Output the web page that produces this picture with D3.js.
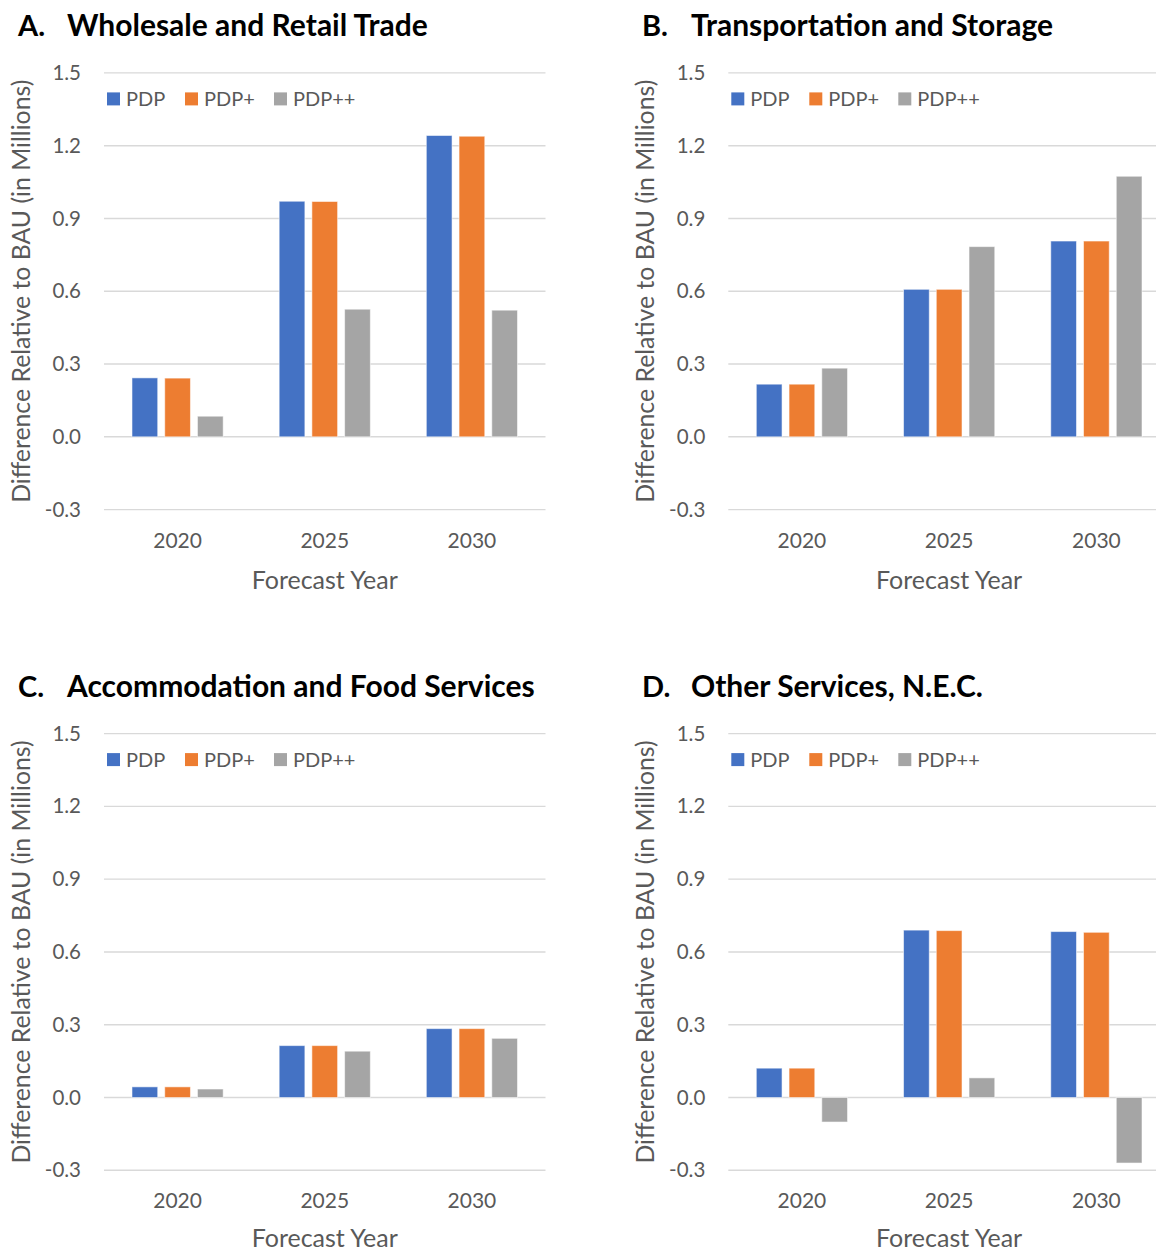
<!DOCTYPE html>
<html><head><meta charset="utf-8">
<script src="https://cdn.jsdelivr.net/npm/d3@7"></script>
<style>html,body{margin:0;padding:0;background:#fff;}svg{display:block;}</style>
</head><body>
<svg id="chart" width="1156" height="1251"></svg>
<script>
// ---- data ----
const categories = ["2020", "2025", "2030"];
const seriesNames = ["PDP", "PDP+", "PDP++"];
const yTicks = [-0.3, 0.0, 0.3, 0.6, 0.9, 1.2, 1.5];
const panelLetters = ["A.", "B.", "C.", "D."];
const panelTitles = ["Wholesale and Retail Trade", "Transportation and Storage", "Accommodation and Food Services", "Other Services, N.E.C."];
const xAxisTitle = "Forecast Year";
const yAxisTitle = "Difference Relative to BAU (in Millions)";

const wholesalePDP   = [0.243, 0.971, 1.242];
const wholesalePDPp  = [0.242, 0.970, 1.239];
const wholesalePDPpp = [0.085, 0.526, 0.522];

const transportPDP   = [0.217, 0.608, 0.807];
const transportPDPp  = [0.217, 0.608, 0.807];
const transportPDPpp = [0.283, 0.784, 1.074];

const accommodationPDP   = [0.044, 0.214, 0.284];
const accommodationPDPp  = [0.044, 0.214, 0.284];
const accommodationPDPpp = [0.035, 0.191, 0.244];

const otherPDP   = [0.121, 0.690, 0.684];
const otherPDPp  = [0.121, 0.688, 0.681];
const otherPDPpp = [-0.101, 0.081, -0.270];

// ---- layout / style ----
const colors = ["#4472C4", "#ED7D31", "#A5A5A5"];
const panelData = [
  [wholesalePDP, wholesalePDPp, wholesalePDPpp],
  [transportPDP, transportPDPp, transportPDPpp],
  [accommodationPDP, accommodationPDPp, accommodationPDPpp],
  [otherPDP, otherPDPp, otherPDPpp]
];
const layouts = [
  {x0: 104, x1: 545.5, yTop: 72.9, yBot: 509.6, titleX: 18, titleY: 35, xtY: 79},
  {x0: 728.3, x1: 1170, yTop: 72.9, yBot: 509.6, titleX: 642, titleY: 35, xtY: 79},
  {x0: 104, x1: 545.5, yTop: 733.6, yBot: 1170.3, titleX: 18, titleY: 696, xtY: 76.5},
  {x0: 728.3, x1: 1170, yTop: 733.6, yBot: 1170.3, titleX: 642, titleY: 696, xtY: 76.5}
];
const FONT = "Lato, 'Open Sans', sans-serif";
const TXT = "#595959";
const fmt = d => d.toFixed(1);

const svg = d3.select("#chart");

layouts.forEach((L, pi) => {
  const g = svg.append("g");
  const y = d3.scaleLinear().domain([-0.3, 1.5]).range([L.yBot, L.yTop]);
  const xOuter = d3.scaleBand().domain(categories).range([L.x0, L.x1]);
  const xInner = d3.scaleBand().domain(seriesNames).range([0, xOuter.bandwidth()])
    .paddingInner(0.214).paddingOuter(0.855);

  // gridlines
  g.append("g").selectAll("line").data(yTicks).join("line")
    .attr("x1", L.x0).attr("x2", L.x1)
    .attr("y1", d => y(d)).attr("y2", d => y(d))
    .attr("stroke", "#D9D9D9").attr("stroke-width", 1.4);

  // y axis via d3 axis (labels only)
  const yAxis = g.append("g").attr("transform", `translate(${L.x0 - 10},0)`)
    .call(d3.axisLeft(y).tickValues(yTicks).tickFormat(fmt).tickSize(0).tickPadding(13));
  yAxis.select(".domain").remove();
  yAxis.selectAll("text").attr("font-family", FONT).attr("font-size", 20.5).attr("fill", TXT);

  // x axis labels
  const xAxis = g.append("g").attr("transform", `translate(0,${L.yBot})`)
    .call(d3.axisBottom(xOuter).tickSize(0).tickPadding(23));
  xAxis.select(".domain").remove();
  xAxis.selectAll("text").attr("font-family", FONT).attr("font-size", 21).attr("fill", TXT);

  // bars
  const data = panelData[pi];
  seriesNames.forEach((s, si) => {
    g.append("g").selectAll("rect").data(data[si]).join("rect")
      .attr("x", (d, i) => xOuter(categories[i]) + xInner(s))
      .attr("width", xInner.bandwidth())
      .attr("y", d => Math.min(y(d), y(0)))
      .attr("height", d => Math.abs(y(d) - y(0)))
      .attr("fill", colors[si])
      .attr("stroke", "#ffffff").attr("stroke-opacity", 0.55).attr("stroke-width", 1);
  });

  // legend
  const lg = g.append("g").attr("transform", `translate(${L.x0 + 3},${L.yTop + 26})`);
  const legendOffsets = [0, 78, 167];
  seriesNames.forEach((s, si) => {
    const item = lg.append("g").attr("transform", `translate(${legendOffsets[si]},0)`);
    item.append("rect").attr("x", 0).attr("y", -6.5).attr("width", 13).attr("height", 13).attr("fill", colors[si]);
    item.append("text").attr("x", 19).attr("y", 7).text(s)
      .attr("font-family", FONT).attr("font-size", 20).attr("fill", TXT);
  });

  // x axis title
  g.append("text").attr("x", (L.x0 + L.x1) / 2).attr("y", L.yBot + L.xtY)
    .attr("text-anchor", "middle").text(xAxisTitle)
    .attr("font-family", FONT).attr("font-size", 25).attr("fill", TXT);

  // y axis title
  g.append("text")
    .attr("transform", `translate(${L.x0 - 74},${(L.yTop + L.yBot) / 2}) rotate(-90)`)
    .attr("text-anchor", "middle").text(yAxisTitle)
    .attr("font-family", FONT).attr("font-size", 24.8).attr("fill", TXT);

  // panel title
  g.append("text").attr("x", L.titleX).attr("y", L.titleY + 1).text(panelLetters[pi])
    .attr("font-family", FONT).attr("font-weight", "bold").attr("font-size", 29).attr("fill", "#000");
  g.append("text").attr("x", L.titleX + 49).attr("y", L.titleY + 1).text(panelTitles[pi])
    .attr("font-family", FONT).attr("font-weight", "bold").attr("font-size", 30).attr("fill", "#000");
});
</script>
</body></html>
